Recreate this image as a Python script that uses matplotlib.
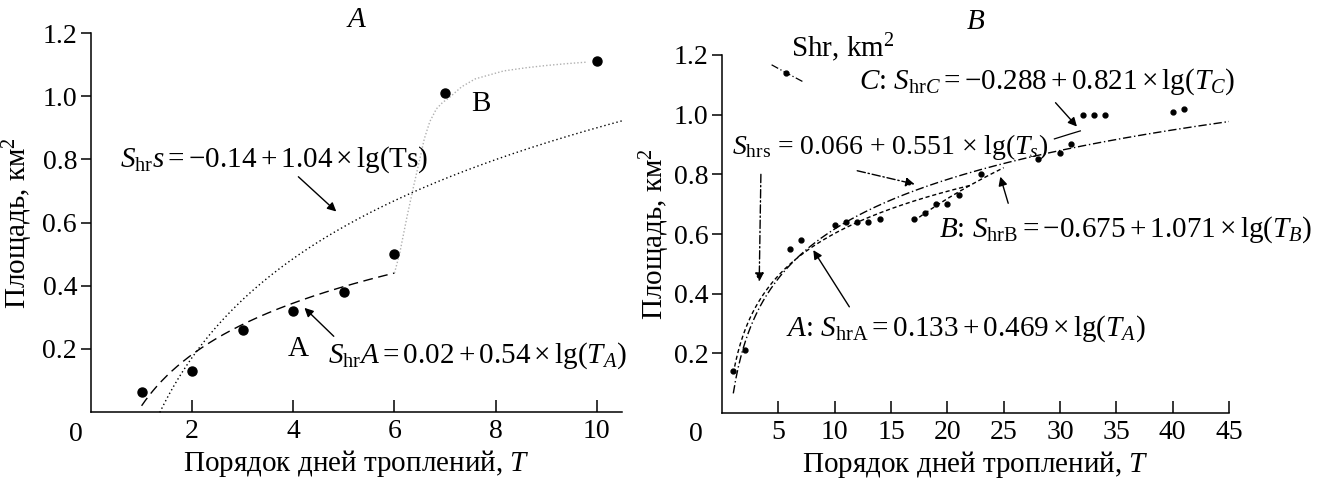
import numpy as np
import matplotlib
matplotlib.use("Agg")
import matplotlib.pyplot as plt

plt.rcParams.update({
    "font.family": ["Liberation Serif", "DejaVu Serif"],
    "font.size": 20,
    "mathtext.fontset": "custom",
    "mathtext.rm": "Liberation Serif",
    "mathtext.it": "Liberation Serif:italic",
    "mathtext.bf": "Liberation Serif:bold",
    "axes.linewidth": 1.1,
})

FS = 21  # annotation / label size

# ---------------------------------------------------------------------------
# Data, panel A
# ---------------------------------------------------------------------------
A_T = [1, 2, 3, 4, 5, 6, 7, 10]
A_S = [0.065, 0.131, 0.261, 0.321, 0.381, 0.502, 1.011, 1.111]

# fit A: S = a + b*lg(T)
A_FIT_A = (0.02, 0.54, 1.0, 6.0)          # intercept, slope, T from, T to
A_FIT_S = (-0.14, 1.04, 1.36, 10.5)
# hand-drawn grey curve B
A_CURVE_B_T = [6.0, 6.1, 6.25, 6.38, 6.5, 6.59, 6.7, 6.83, 6.95, 7.08,
               7.33, 7.6, 8.16, 8.6, 8.99, 9.4, 9.82]
A_CURVE_B_S = [0.44, 0.50, 0.62, 0.716, 0.80, 0.865, 0.92, 0.96, 0.98, 0.995,
               1.03, 1.055, 1.08, 1.09, 1.097, 1.103, 1.108]

# ---------------------------------------------------------------------------
# Data, panel B
# ---------------------------------------------------------------------------
B_T = [1, 2, 6, 7, 10, 11, 12, 13, 14, 17, 18, 19, 20, 21, 23, 28, 30, 31,
       32, 33, 34, 40, 41]
B_S = [0.14, 0.21, 0.55, 0.58, 0.63, 0.64, 0.64, 0.64, 0.65, 0.65, 0.67,
       0.70, 0.70, 0.73, 0.80, 0.85, 0.87, 0.90, 1.0, 1.0, 1.0, 1.01, 1.02]

B_FIT_S = (0.066, 0.551, 1.0, 45.0)
B_FIT_A = (0.133, 0.469, 1.0, 22.0)
B_FIT_B = (-0.675, 1.071, 17.0, 25.0)
B_FIT_C = (-0.288, 0.821, 29.5, 31.8)

KEY_T = [4.4, 5.7, 7.2]
KEY_S = [1.167, 1.14, 1.11]


def fit_curve(fit, n=200):
    a, b, t0, t1 = fit
    t = np.linspace(t0, t1, n)
    return t, a + b * np.log10(t)


def style_axes(ax):
    for side in ("top", "right"):
        ax.spines[side].set_visible(False)
    ax.tick_params(axis="x", direction="in", length=9, width=1.1, pad=5)
    ax.tick_params(axis="y", direction="out", length=7, width=1.1, pad=3)
    ax.set_ylim(0, 1.2)
    ax.set_yticks([0.2, 0.4, 0.6, 0.8, 1.0, 1.2])
    ax.set_yticklabels(["0.2", "0.4", "0.6", "0.8", "1.0", "1.2"])
    ax.set_ylabel("Площадь, км$^2$", fontsize=FS)
    ax.set_xlabel("Порядок дней троплений, $T$", fontsize=FS, labelpad=3)


ARROW = dict(arrowstyle="-|>", color="black", lw=1.0,
             mutation_scale=13, shrinkA=0, shrinkB=0)
ARROW_DD = dict(ARROW, ls=(0, (6, 2, 1, 2)))

fig = plt.figure(figsize=(13.19, 4.82), dpi=100)
ax1 = fig.add_axes([0.069, 0.145, 0.4026, 0.7865])
ax2 = fig.add_axes([0.5474, 0.143, 0.3844, 0.743])

# ---------------------------------------------------------------- panel A
t, s = fit_curve(A_FIT_A)
ax1.plot(t, s, color="black", lw=1.0, ls=(0, (7, 4)))
t, s = fit_curve(A_FIT_S)
ax1.plot(t, s, color="black", lw=1.0, ls=(0, (1, 2)), clip_on=False)
ax1.plot(A_CURVE_B_T, A_CURVE_B_S, color="#b0b0b0", lw=1.0, ls=(0, (1, 1.5)))
ax1.plot(A_T, A_S, "o", color="black", ms=6.5)

ax1.set_xlim(0, 10.5)
ax1.set_xticks([2, 4, 6, 8, 10])
style_axes(ax1)
ax1.yaxis.labelpad = 5
ax1.text(-0.3, -0.03, "0", ha="center", va="top", transform=ax1.transData)
ax1.set_title("$A$", fontsize=FS, pad=-2)

ax1.text(0.58, 0.80, r"$S_{\rm hr}s = -0.14 + 1.04 \times {\rm lg(Ts)}$",
         ha="left", va="center", fontsize=FS)
ax1.annotate("", xy=(4.85, 0.635), xytext=(4.1, 0.745), arrowprops=ARROW)
ax1.text(7.7, 0.975, "B", ha="center", va="center", fontsize=FS)
ax1.text(4.1, 0.2, "A", ha="center", va="center", fontsize=FS)
ax1.text(4.68, 0.18, r"$S_{\rm hr}A = 0.02 + 0.54 \times {\rm lg}(T_A)$",
         ha="left", va="center", fontsize=FS)
ax1.annotate("", xy=(4.22, 0.33), xytext=(4.8, 0.24), arrowprops=ARROW)

# ---------------------------------------------------------------- panel B
t, s = fit_curve(B_FIT_S)
ax2.plot(t, s, color="black", lw=1.0, ls=(0, (6, 2, 1, 2)))
t, s = fit_curve(B_FIT_A)
ax2.plot(t, s, color="black", lw=1.0, ls=(0, (3, 2)))
t, s = fit_curve(B_FIT_B)
ax2.plot(t, s, color="black", lw=1.0, ls=(0, (3, 2)))
t, s = fit_curve(B_FIT_C)
ax2.plot(t, s, color="black", lw=0.9)
ax2.plot(B_T, B_S, "o", color="black", ms=3.5)

ax2.set_xlim(0, 45)
ax2.set_xticks([5, 10, 15, 20, 25, 30, 35, 40, 45])
style_axes(ax2)
ax2.yaxis.labelpad = 1
ax2.text(-2.3, -0.03, "0", ha="center", va="top", transform=ax2.transData)
ax2.set_title("$B$", fontsize=FS, pad=19)

# key symbol next to "Shr, km2"
ax2.plot(KEY_T, KEY_S, color="black", lw=0.9, ls=(0, (6, 2, 1, 2)),
         clip_on=False)
ax2.plot(KEY_T[1], KEY_S[1], "o", color="black", ms=3.5, clip_on=False)
ax2.text(6.1, 1.225, "Shr, km$^2$", ha="left", va="center", fontsize=FS)

ax2.text(12.2, 1.11, r"$C$: $S_{{\rm hr}C} = -0.288 + 0.821 \times {\rm lg}(T_C)$",
         ha="left", va="center", fontsize=FS)
ax2.annotate("", xy=(31.5, 0.96), xytext=(29.6, 1.04), arrowprops=ARROW)

ax2.text(0.9, 0.893, "$S_{\\rm hrs}$ = 0.066 + 0.551 \u00d7 lg($T_s$)",
         ha="left", va="center", fontsize=20)
ax2.annotate("", xy=(17.1, 0.767), xytext=(12.0, 0.812), arrowprops=ARROW_DD)
ax2.annotate("", xy=(3.3, 0.44), xytext=(3.45, 0.80), arrowprops=ARROW_DD)

ax2.text(19.3, 0.613, r"$B$: $S_{\rm hrB} = -0.675 + 1.071 \times {\rm lg}(T_B)$",
         ha="left", va="center", fontsize=FS)
ax2.annotate("", xy=(24.7, 0.792), xytext=(25.4, 0.703), arrowprops=ARROW)

ax2.text(5.7, 0.283, r"$A$: $S_{\rm hrA} = 0.133 + 0.469 \times {\rm lg}(T_A)$",
         ha="left", va="center", fontsize=FS)
ax2.annotate("", xy=(8.1, 0.546), xytext=(11.3, 0.356), arrowprops=ARROW)

fig.savefig("out.png", dpi=100)
